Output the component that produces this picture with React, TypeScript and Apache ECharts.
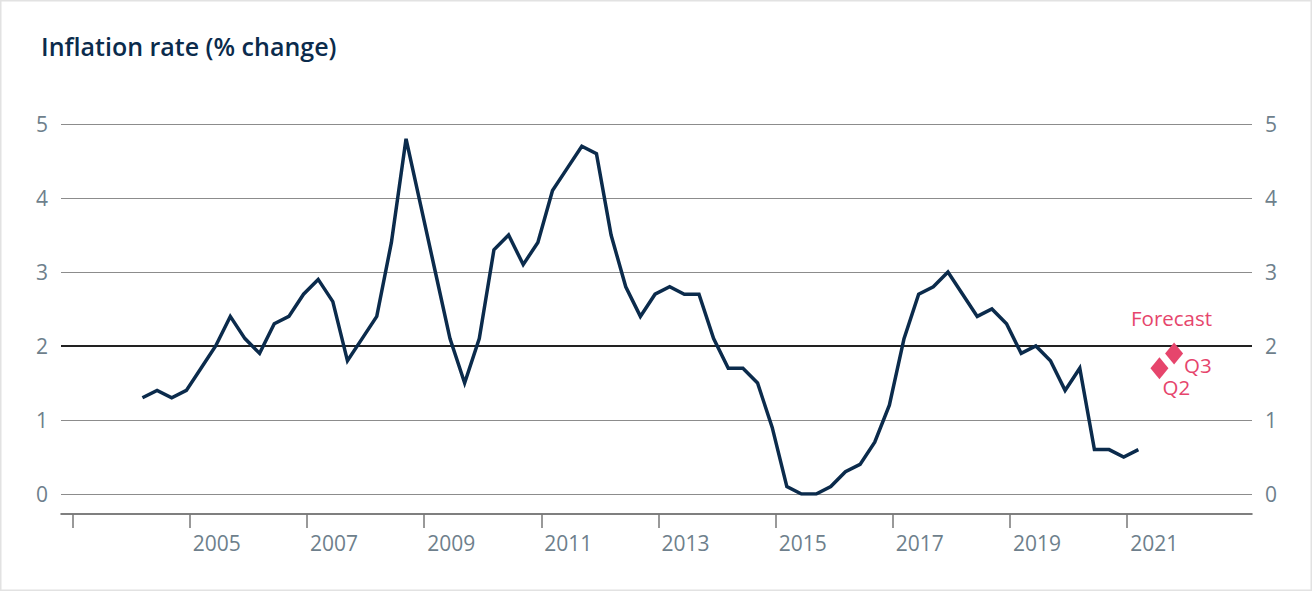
import React, { useEffect, useRef } from "react";
import * as echarts from "echarts";

// Quarterly CPI inflation (% change), 2004 Q1 .. 2021 Q1
const startYear = 2004;
const inflation = [
  1.3, 1.4, 1.3, 1.4,
  1.7, 2.0, 2.4, 2.1,
  1.9, 2.3, 2.4, 2.7,
  2.9, 2.6, 1.8, 2.1,
  2.4, 3.4, 4.8, 3.9,
  3.0, 2.1, 1.5, 2.1,
  3.3, 3.5, 3.1, 3.4,
  4.1, 4.4, 4.7, 4.6,
  3.5, 2.8, 2.4, 2.7,
  2.8, 2.7, 2.7, 2.1,
  1.7, 1.7, 1.5, 0.9,
  0.1, 0.0, 0.0, 0.1,
  0.3, 0.4, 0.7, 1.2,
  2.1, 2.7, 2.8, 3.0,
  2.7, 2.4, 2.5, 2.3,
  1.9, 2.0, 1.8, 1.4,
  1.7, 0.6, 0.6, 0.5,
  0.6,
];
const forecastLabels = ["Q2", "Q3"];
const forecastQuarterIndex = [69, 70];
const forecastValues = [1.7, 1.9];
const targetRate = 2;
const yTicks = [0, 1, 2, 3, 4, 5];
const xTickYears = [2003, 2005, 2007, 2009, 2011, 2013, 2015, 2017, 2019, 2021];
const xLabelYears = [2005, 2007, 2009, 2011, 2013, 2015, 2017, 2019, 2021];

const NAVY = "#0B2B4C";
const GREY_TEXT = "#6E7F8C";
const PINK = "#E6456C";
const FONT = "'Open Sans', 'Noto Sans', sans-serif";

const qx = (i: number, shift = 0.19) => startYear + i * 0.25 + shift;

export default function App() {
  const ref = useRef<HTMLDivElement>(null);
  useEffect(() => {
    document.body.style.margin = "0";
    const chart = echarts.init(ref.current!, null, { renderer: "svg" });
    const lineData = inflation.map((v, i) => [qx(i), v]);
    const fcData = forecastValues.map((v, k) => ({
      value: [qx(forecastQuarterIndex[k], 0.3), v],
      label:
        k === 0
          ? { show: true, formatter: forecastLabels[k], position: [12, 19] }
          : { show: true, formatter: forecastLabels[k], position: [19, 12] },
    }));
    chart.setOption({
      animation: false,
      backgroundColor: "#fff",
      textStyle: { fontFamily: FONT },
      title: {
        text: "Inflation rate (% change)",
        left: 36,
        top: 28,
        textStyle: { color: NAVY, fontSize: 25, fontWeight: 600, fontFamily: FONT },
      },
      grid: { left: 61, right: 60, top: 124, bottom: 97 },
      xAxis: {
        type: "value",
        min: 2002.8,
        max: 2023.13,
        offset: 20,
        axisLine: { onZero: false, lineStyle: { color: "#555", width: 1.5 } },
        axisTick: { show: true, length: 14, customValues: xTickYears, lineStyle: { color: "#777", width: 1.5 } },
        axisLabel: {
          customValues: xLabelYears.map((y) => y + 0.46),
          formatter: (v: number) => String(Math.floor(v)),
          color: GREY_TEXT,
          fontSize: 21,
          margin: 18,
          fontFamily: FONT,
        },
        splitLine: { show: false },
      },
      yAxis: [
        {
          type: "value",
          min: yTicks[0],
          max: yTicks[yTicks.length - 1],
          interval: 1,
          axisLine: { show: false },
          axisTick: { show: false },
          axisLabel: { color: GREY_TEXT, fontSize: 21, margin: 13, fontFamily: FONT },
          splitLine: { lineStyle: { color: "#8c8c8c", width: 1 } },
        },
        {
          type: "value",
          position: "right",
          min: yTicks[0],
          max: yTicks[yTicks.length - 1],
          interval: 1,
          axisLine: { show: false },
          axisTick: { show: false },
          axisLabel: { color: GREY_TEXT, fontSize: 21, margin: 13, fontFamily: FONT },
          splitLine: { show: false },
        },
      ],
      graphic: [
        {
          type: "rect",
          shape: { x: 0, y: 0, width: 1312, height: 591 },
          style: { fill: "none", stroke: "#e2e2e2", lineWidth: 3 },
          silent: true,
        },
        {
          type: "text",
          left: 1131,
          top: 307,
          style: { text: "Forecast", fill: PINK, fontSize: 20.5, fontFamily: FONT },
        },
      ],
      series: [
        {
          type: "line",
          data: lineData,
          showSymbol: false,
          lineStyle: { color: NAVY, width: 3.5, join: "miter" },
          z: 3,
          markLine: {
            silent: true,
            symbol: ["none", "none"],
            label: { show: false },
            lineStyle: { color: "#222", width: 2, type: "solid" },
            data: [{ yAxis: targetRate }],
            z: 2,
          },
        },
        {
          type: "scatter",
          data: fcData,
          symbol: "diamond",
          symbolSize: [18, 22],
          itemStyle: { color: PINK, opacity: 1 },
          label: { color: PINK, fontSize: 20.5, fontFamily: FONT },
          z: 4,
        },
      ],
    });
    return () => chart.dispose();
  }, []);
  return <div ref={ref} style={{ width: 1312, height: 591 }} />;
}
